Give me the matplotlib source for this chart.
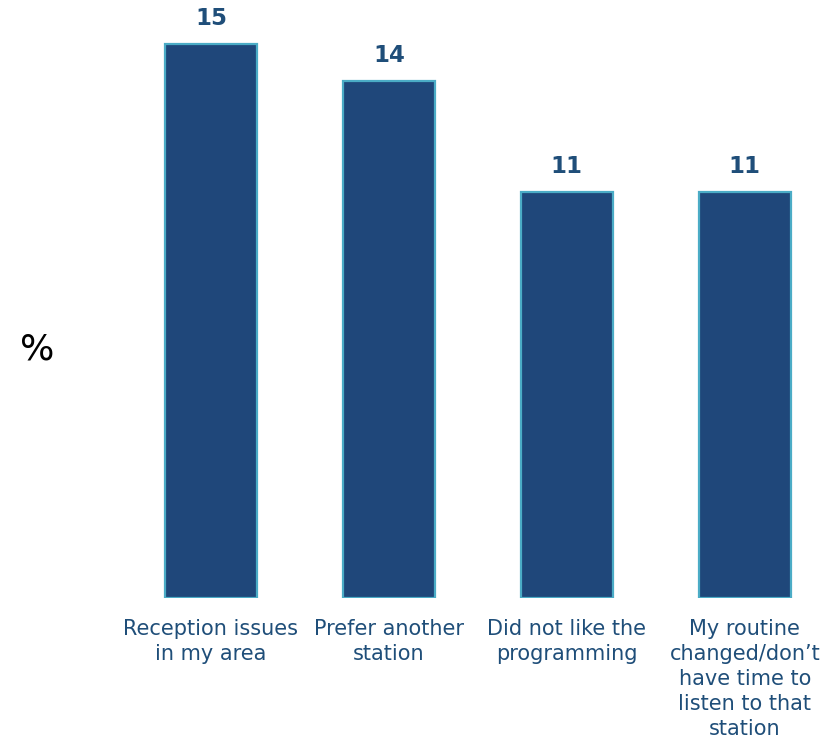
import matplotlib
matplotlib.use("Agg")
import matplotlib.pyplot as plt

categories = ["Reception issues\nin my area", "Prefer another\nstation",
              "Did not like the\nprogramming",
              "My routine\nchanged/don\u2019t\nhave time to\nlisten to that\nstation"]
values = [15, 14, 11, 11]

bar_color = "#1F477A"
edge_color = "#4BACC6"
text_color = "#1F4E79"

fig = plt.figure(figsize=(8.25, 7.43), dpi=100)
ax = fig.add_axes([122 / 825, 145 / 743, (816 - 122) / 825, 591 / 743])

x = range(len(values))
bars = ax.bar(x, values, width=0.517, color=bar_color, edgecolor=edge_color, linewidth=1.6)
for xi, v in zip(x, values):
    ax.annotate(str(v), (xi, v), xytext=(0, 10), textcoords="offset points",
                ha="center", va="bottom", fontsize=16.5, fontweight="bold",
                color=text_color, family="DejaVu Sans")

ax.set_xlim(-0.5, 3.4)
ax.set_ylim(0, 16)
ax.set_xticks(list(x))
ax.set_xticklabels(categories, fontsize=15, color=text_color, linespacing=1.32)
ax.tick_params(axis="x", length=0, pad=15)
ax.set_yticks([])
for s in ax.spines.values():
    s.set_visible(False)

fig.text(37 / 825, 1 - 350 / 743, "%", fontsize=26, ha="center", va="center", color="black")

fig.savefig("out.png", dpi=100)
